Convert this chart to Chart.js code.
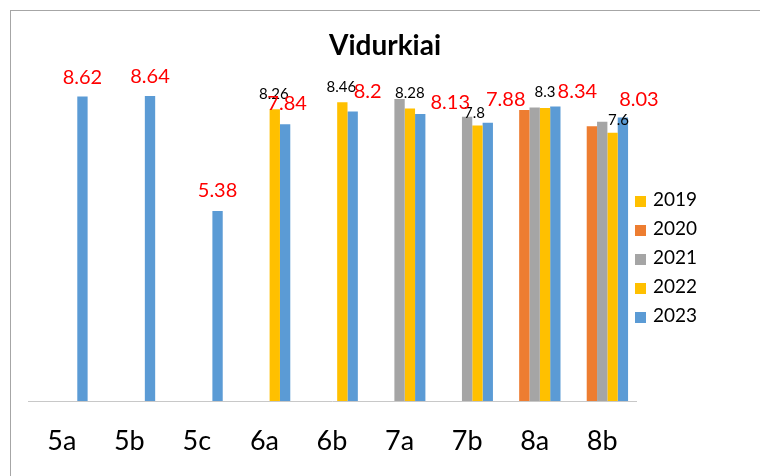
<!DOCTYPE html>
<html>
<head>
<meta charset="utf-8">
<script src="https://cdn.jsdelivr.net/npm/chart.js@4/dist/chart.umd.min.js"></script>
<style>
  html, body { margin: 0; padding: 0; background: #fff; overflow: hidden; }
  #frame { position: absolute; left: 10px; top: 10px; width: 800px; height: 500px;
           border-left: 1px solid #a6a6a6; border-top: 1px solid #a6a6a6; }
  #chart { position: absolute; left: 0; top: 0; }
</style>
</head>
<body>
<div id="frame"></div>
<canvas id="chart" width="760" height="476"></canvas>
<script>
// chart data
const chartTitle = "Vidurkiai";
const classes = ["5a", "5b", "5c", "6a", "6b", "7a", "7b", "8a", "8b"];
const years = ["2019", "2020", "2021", "2022", "2023"];
const avg2019 = [null, null, null, null, null, null, null, null, null];
const avg2020 = [null, null, null, null, null, null, null, 8.24, 7.78];
const avg2021 = [null, null, null, null, null, 8.55, 8.05, 8.31, 7.91];
const avg2022 = [null, null, null, 8.26, 8.46, 8.28, 7.8, 8.3, 7.6];
const avg2023 = [8.62, 8.64, 5.38, 7.84, 8.2, 8.13, 7.88, 8.34, 8.03];

const colors = ["#FFC000", "#ED7D31", "#A5A5A5", "#FFC000", "#5B9BD5"];
const FONT = "Lato, 'Open Sans', sans-serif";

// value labels: only 2022 (black) and 2023 (red) are labelled
// dx / gap = nudge of each label from its bar top, as placed in the original
const labelStyles = [
  { dataset: 3, color: "#000", font: "15px " + FONT,
    dx: [0, 0, 0, -1, -1, 0, -3, 0, 6], gap: [10, 10, 10, 10, 10, 11, 8, 11, 8] },
  { dataset: 4, color: "#FF0000", font: "20px " + FONT,
    dx: [0, 0, 0, 2, 15, 30, 18, 22, 16], gap: [13, 13, 14, 14, 13, 5, 17, 8, 11] }
];

const valueLabels = {
  id: "valueLabels",
  afterDatasetsDraw(chart) {
    const ctx = chart.ctx;
    ctx.save();
    ctx.textAlign = "center";
    ctx.textBaseline = "alphabetic";
    labelStyles.forEach(s => {
      const meta = chart.getDatasetMeta(s.dataset);
      const values = chart.data.datasets[s.dataset].data;
      meta.data.forEach((bar, i) => {
        if (values[i] == null) return;
        ctx.font = s.font;
        ctx.fillStyle = s.color;
        ctx.fillText(String(values[i]), bar.x + s.dx[i], bar.y - s.gap[i]);
      });
    });
    ctx.restore();
  }
};

// title drawn by hand so it can sit centred on the whole frame
const titleText = {
  id: "titleText",
  afterDraw(chart) {
    const ctx = chart.ctx;
    ctx.save();
    ctx.font = "bold 28px " + FONT;
    ctx.fillStyle = "#000";
    ctx.textAlign = "center";
    ctx.textBaseline = "middle";
    ctx.fillText(chartTitle, 385, 46);
    ctx.restore();
  }
};

// legend on the right, just past the end of the axis line
const sideLegend = {
  id: "sideLegend",
  afterDraw(chart) {
    const ctx = chart.ctx;
    const x = chart.chartArea.right - 1;
    ctx.save();
    ctx.font = "19px " + FONT;
    ctx.textAlign = "left";
    ctx.textBaseline = "middle";
    chart.data.datasets.forEach((ds, i) => {
      const y = 200 + i * 29;
      ctx.fillStyle = ds.backgroundColor;
      ctx.fillRect(x, y - 4, 11, 11);
      ctx.fillStyle = "#000";
      ctx.fillText(ds.label, x + 18, y);
    });
    ctx.restore();
  }
};

const series = [avg2019, avg2020, avg2021, avg2022, avg2023];

new Chart(document.getElementById("chart"), {
  type: "bar",
  data: {
    labels: classes,
    datasets: series.map((d, i) => ({
      label: years[i],
      data: d,
      backgroundColor: colors[i],
      borderWidth: 0,
      categoryPercentage: 0.765,
      barPercentage: 1
    }))
  },
  options: {
    responsive: false,
    animation: false,
    layout: { padding: { top: 62, left: 28, right: 124, bottom: -6 } },
    plugins: {
      legend: { display: false },
      title: { display: false },
      tooltip: { enabled: false }
    },
    scales: {
      x: {
        grid: { display: false, drawTicks: false },
        border: { display: true, color: "#c8c8c8", width: 1 },
        ticks: { color: "#000", padding: 27, font: { family: FONT, size: 27, lineHeight: 1 } }
      },
      y: { display: false, min: 0, max: 9.6 }
    }
  },
  plugins: [valueLabels, titleText, sideLegend]
});
</script>
</body>
</html>
